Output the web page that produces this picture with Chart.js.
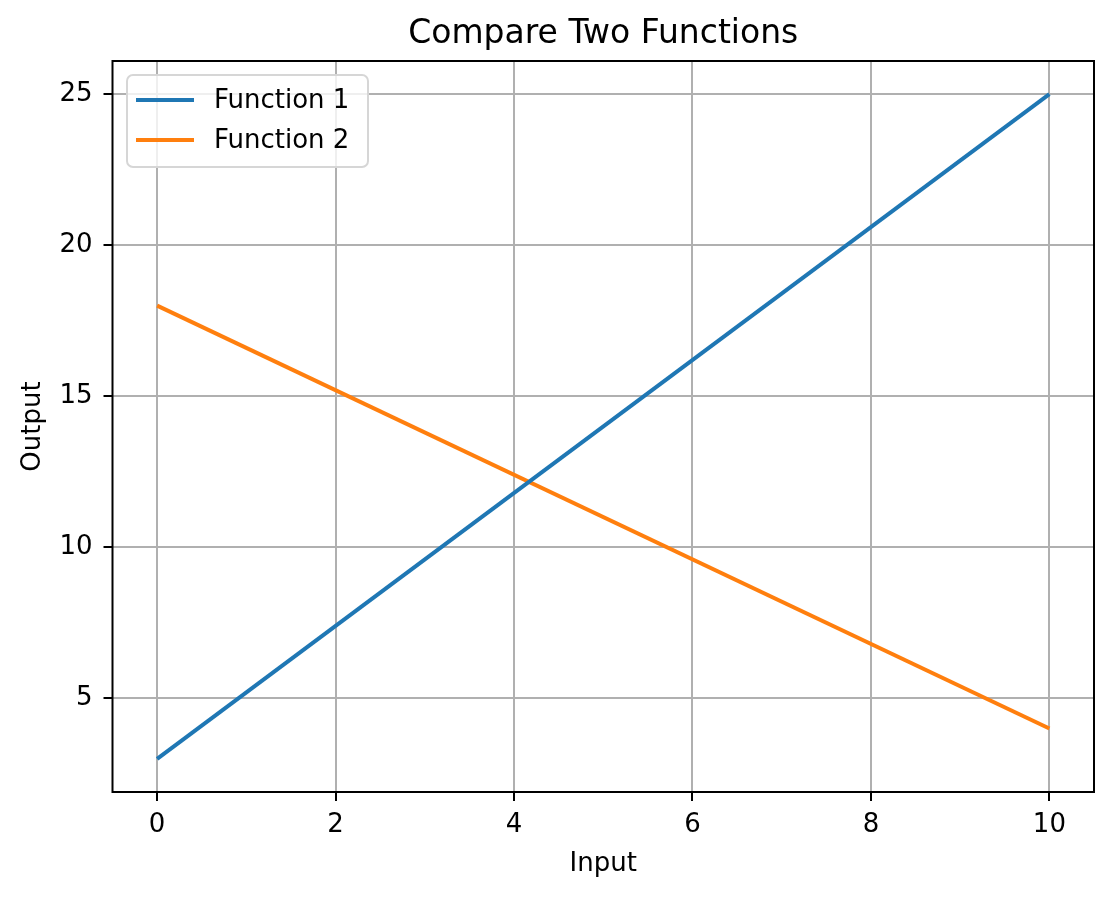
<!DOCTYPE html>
<html lang="en">
<head>
    <meta charset="UTF-8">
    <title>Compare Two Functions</title>
    <script src="https://cdn.jsdelivr.net/npm/chart.js"></script>
    <style>
      html, body {
          margin: 0;
          padding: 0;
          background: #ffffff;
      }
      canvas {
          display: block;
      }
    </style>
</head>
<body>
    <canvas id="funcChart" width="1113" height="898"></canvas>
    <script>
    // data
    const inputs = [0, 10];
    const function1 = [3, 25];
    const function2 = [18, 4];
    const xTicks = [0, 2, 4, 6, 8, 10];
    const yTicks = [5, 10, 15, 20, 25];
    const seriesNames = ["Function 1", "Function 2"];
    const seriesColors = ["#1f77b4", "#ff7f0e"];
    const chartTitle = "Compare Two Functions";

    const fontFamily = "'DejaVu Sans', sans-serif";

    function toPoints(xs, ys) {
        return xs.map((x, i) => ({ x: x, y: ys[i] }));
    }

    // title centred over the plot area (not the whole canvas), like matplotlib
    const plotTitle = {
        id: "plotTitle",
        afterDraw(chart) {
            const a = chart.chartArea;
            const ctx = chart.ctx;
            ctx.save();
            ctx.font = "33px " + fontFamily;
            ctx.fillStyle = "#000000";
            ctx.textAlign = "center";
            ctx.textBaseline = "middle";
            ctx.fillText(chartTitle, (a.left + a.right) / 2, 34);
            ctx.restore();
        }
    };

    // full black frame like matplotlib spines
    const framePlugin = {
        id: "frame",
        afterDatasetsDraw(chart) {
            const a = chart.chartArea;
            const ctx = chart.ctx;
            ctx.save();
            ctx.strokeStyle = "#000000";
            ctx.lineWidth = 2;
            ctx.strokeRect(a.left, a.top, a.right - a.left, a.bottom - a.top);
            ctx.restore();
        }
    };

    // legend box drawn inside the plot, upper left
    const innerLegend = {
        id: "innerLegend",
        afterDraw(chart) {
            const a = chart.chartArea;
            const ctx = chart.ctx;
            const x0 = a.left + 14.5, y0 = a.top + 14;
            const w = 241, h = 92, r = 6;
            ctx.save();
            ctx.beginPath();
            ctx.roundRect(x0, y0, w, h, r);
            ctx.fillStyle = "rgba(255,255,255,0.8)";
            ctx.fill();
            ctx.strokeStyle = "#d6d6d6";
            ctx.lineWidth = 2;
            ctx.stroke();
            ctx.font = "26px " + fontFamily;
            ctx.textBaseline = "middle";
            ctx.textAlign = "left";
            chart.data.datasets.forEach((ds, i) => {
                const cy = y0 + 25 + i * 40;
                ctx.beginPath();
                ctx.moveTo(x0 + 9, cy);
                ctx.lineTo(x0 + 67, cy);
                ctx.strokeStyle = ds.borderColor;
                ctx.lineWidth = 4;
                ctx.stroke();
                ctx.fillStyle = "#000000";
                ctx.fillText(ds.label, x0 + 87, cy + 1);
            });
            ctx.restore();
        }
    };

    const ctx = document.getElementById("funcChart").getContext("2d");
    const funcChart = new Chart(ctx, {
        type: "line",
        data: {
            datasets: [{
                label: seriesNames[0],
                data: toPoints(inputs, function1),
                borderColor: seriesColors[0],
                borderWidth: 4,
                pointRadius: 0,
                fill: false,
                tension: 0
            }, {
                label: seriesNames[1],
                data: toPoints(inputs, function2),
                borderColor: seriesColors[1],
                borderWidth: 4,
                pointRadius: 0,
                fill: false,
                tension: 0
            }]
        },
        options: {
            responsive: false,
            animation: false,
            devicePixelRatio: 1,
            layout: {
                padding: { left: 0, right: 19, top: 61, bottom: 0 }
            },
            plugins: {
                legend: { display: false },
                tooltip: { enabled: false },
                title: { display: false }
            },
            scales: {
                x: {
                    type: "linear",
                    min: -0.5,
                    max: 10.5,
                    afterBuildTicks(scale) {
                        scale.ticks = xTicks.map(v => ({ value: v }));
                    },
                    afterFit(scale) {
                        scale.height = 106;
                    },
                    grid: {
                        color: "#b0b0b0",
                        lineWidth: 2,
                        tickLength: 9,
                        tickColor: "#000000",
                        tickWidth: 2
                    },
                    border: { display: false },
                    ticks: {
                        color: "#000000",
                        padding: 9,
                        font: { family: fontFamily, size: 26 }
                    },
                    title: {
                        display: true,
                        text: "Input",
                        color: "#000000",
                        font: { family: fontFamily, size: 26 },
                        padding: { top: 0, bottom: 18 }
                    }
                },
                y: {
                    type: "linear",
                    min: 1.9,
                    max: 26.1,
                    afterBuildTicks(scale) {
                        scale.ticks = yTicks.map(v => ({ value: v }));
                    },
                    afterFit(scale) {
                        scale.width = 112.5;
                    },
                    grid: {
                        color: "#b0b0b0",
                        lineWidth: 2,
                        tickLength: 9,
                        tickColor: "#000000",
                        tickWidth: 2
                    },
                    border: { display: false },
                    ticks: {
                        color: "#000000",
                        padding: 11,
                        font: { family: fontFamily, size: 26 }
                    },
                    title: {
                        display: true,
                        text: "Output",
                        color: "#000000",
                        font: { family: fontFamily, size: 26 },
                        padding: { top: 18, bottom: 0 }
                    }
                }
            }
        },
        plugins: [framePlugin, innerLegend, plotTitle]
    });
    </script>
</body>
</html>
